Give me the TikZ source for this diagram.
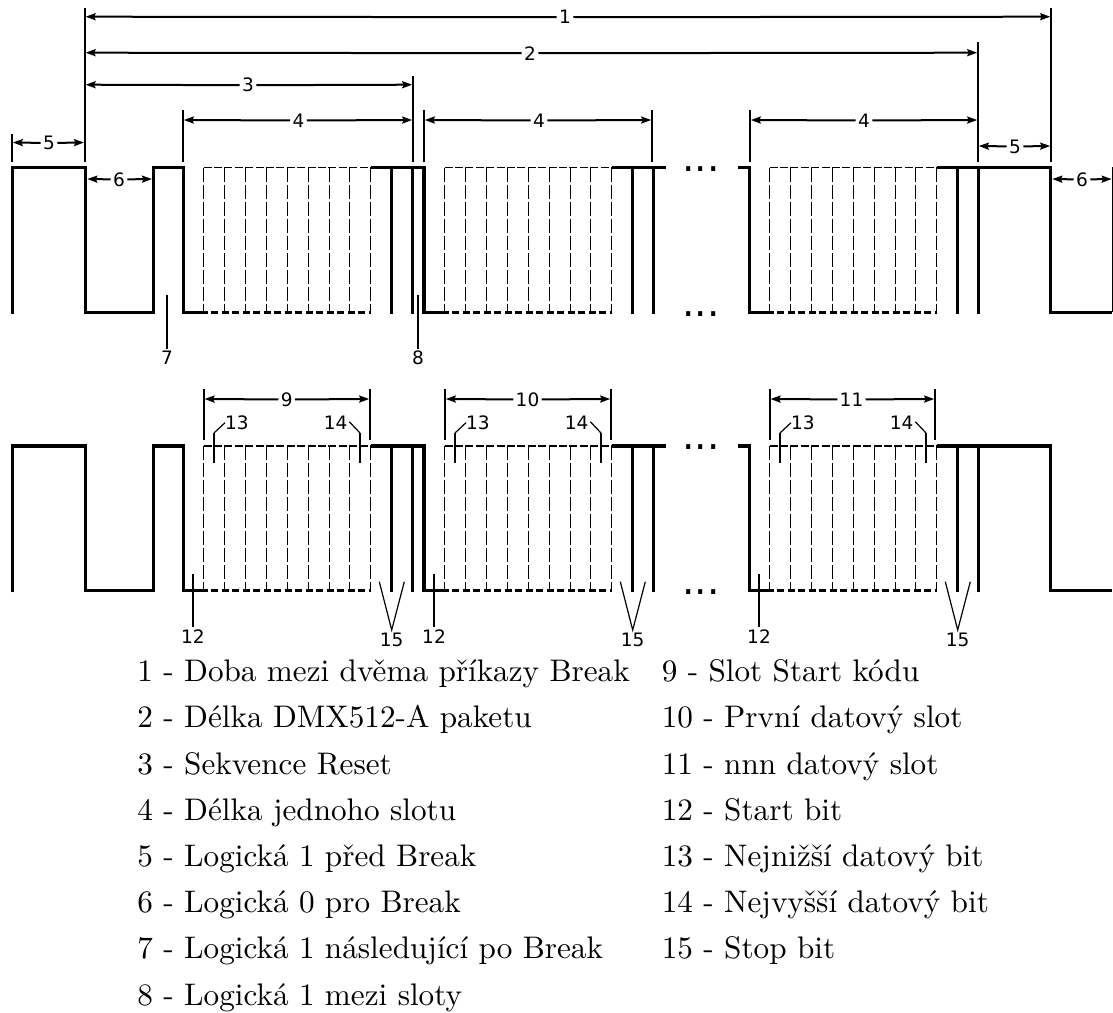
\documentclass[tikz,border=0pt]{standalone}
\usepackage{fontspec}
\usetikzlibrary{arrows.meta,calc}
\newfontfamily\labfont{DejaVu Sans}
\tikzset{
  wave/.style={line width=3.2pt,miter limit=10},
  stopline/.style={line width=3.2pt},
  guide/.style={line width=1.9pt},
  dimln/.style={line width=2pt},
  ltip/.style={{Stealth[length=10pt,width=7pt,inset=1.5pt]}-},
  rtip/.style={-{Stealth[length=10pt,width=7pt,inset=1.5pt]}},
  slotv/.style={line width=1.3pt,dash pattern=on 14.5pt off 2.5pt},
  slott/.style={line width=1.3pt,dash pattern=on 8pt off 2.4pt},
  slotb/.style={line width=2.8pt,dash pattern=on 7pt off 3.5pt,dash phase=3pt},
  num/.style={font=\labfont\fontsize{18.5}{21}\selectfont,inner sep=2.2pt},
  elid/.style={font=\labfont\fontsize{39}{44}\selectfont,inner sep=0pt,anchor=base},
  leader/.style={line width=2pt},
  leaderthin/.style={line width=1.2pt},
  legend/.style={scale=3.12,anchor=base west,inner sep=0pt},
}
\newcommand{\dimarrow}[6]{%
  \coordinate (#1-l) at (#2,#4);
  \coordinate (#1-r) at (#3,#4);
  \node[num] (#1) at (#6,#4+0.5) {#5};
  \draw[dimln,ltip] (#1-l) -- (#1);
  \draw[dimln,rtip] (#1) -- (#1-r);
}
\newcommand{\slots}[1]{%
  \begin{scope}[shift={(#1,0)}]
    \foreach \x in {203.5,224.5,245.5,266.5,287.5,308.5,329.5,349.5,370.5}
      \draw[slotv] (\x,167.5) -- (\x,312.3);
    \draw[slott] (203.5,167.5) -- (370.5,167.5);
    \draw[slotb] (203.5,312.3) -- (370.5,312.3);
    \draw[stopline] (391.5,167.5) -- (391.5,313.9);
    \draw[stopline] (412.5,167.5) -- (412.5,313.9);
  \end{scope}
}
\newcommand{\waveform}{%
  \draw[wave] (12.3,313.9) -- (12.3,167.5) -- (85.5,167.5) -- (85.5,312.3) -- (153.3,312.3)
     -- (153.3,167.5) -- (183.5,167.5) -- (183.5,312.3) -- (203.5,312.3);
  \slots{0}
  \draw[wave] (370.5,167.5) -- (424,167.5) -- (424,312.3) -- (444.5,312.3);
  \slots{241}
  \draw[wave] (611.5,167.5) -- (666,167.5);
  \draw[wave] (738,167.5) -- (749.3,167.5) -- (749.3,312.3) -- (769.5,312.3);
  \slots{566}
  \draw[wave] (936.5,167.5) -- (1050.7,167.5) -- (1050.7,312.3) -- (1112.3,312.3);
}
\begin{document}
\begin{tikzpicture}[x=1pt,y=-1pt]
\useasboundingbox (0,0) rectangle (1113,1012);
% top row
\waveform
\node[elid] (dotsA) at (701,171) {...};
\node[elid] (dotsB) at (701,316) {...};
\draw[line width=1.4pt] (1112.3,167) -- (1112.3,312.3);
% guides
\draw[guide] (12,134) -- (12,161.5);
\draw[guide] (84.8,8) -- (84.8,161.5);
\draw[guide] (183,110) -- (183,161.5);
\draw[guide] (413,76) -- (413,161.5);
\draw[guide] (424,110) -- (424,161.5);
\draw[guide] (652,110) -- (652,161.5);
\draw[guide] (750,110) -- (750,161.5);
\draw[guide] (978,42) -- (978,161.5);
\draw[guide] (1051,8) -- (1051,161.5);
% dimensions
\dimarrow{d1}{85.6}{1050.2}{16.7}{1}{565}
\dimarrow{d2}{85.6}{977.2}{52.7}{2}{530}
\dimarrow{d3}{85.6}{412.2}{84.7}{3}{248}
\dimarrow{d4a}{183.8}{412.2}{120}{4}{298.5}
\dimarrow{d4b}{424.8}{651.2}{120}{4}{539}
\dimarrow{d4c}{750.8}{977.2}{120}{4}{864}
\dimarrow{d5a}{12.8}{84}{142.5}{5}{49}
\dimarrow{d5b}{978.8}{1050.2}{146}{5}{1015}
\dimarrow{d6a}{87.3}{152}{179}{6}{119}
\dimarrow{d6b}{1052.3}{1111.6}{179}{6}{1082}
% leaders 7, 8
\coordinate (c7) at (167,295);
\node[num] (n7) at (167,358) {7};
\draw[leader] (c7) -- (n7);
\coordinate (c8) at (418,295);
\node[num] (n8) at (418,358) {8};
\draw[leader] (c8) -- (n8);
% bottom row
\begin{scope}[shift={(0,278.4)}]
  \waveform
\end{scope}
\node[elid] (dotsC) at (701,449.5) {...};
\node[elid] (dotsD) at (701,594) {...};
% slot dimensions
\draw[guide] (203.7,389) -- (203.7,440);
\draw[guide] (370,389) -- (370,440);
\draw[guide] (445,389) -- (445,440);
\draw[guide] (611,389) -- (611,440);
\draw[guide] (769.7,389) -- (769.7,440);
\draw[guide] (935,389) -- (935,440);
\dimarrow{d9}{204.5}{369.2}{399}{9}{286.7}
\dimarrow{d10}{445.8}{610.2}{399}{10}{527.5}
\dimarrow{d11}{770.5}{934.2}{399}{11}{851.5}
% per-slot leaders
\foreach \o/\k in {0/a,241/b,566/c}{
  \begin{scope}[shift={(\o,0)}]
    \node[num,anchor=west,inner sep=0pt] (n13\k) at (225,422.7) {13};
    \coordinate (c13\k) at (214,462.7);
    \coordinate (e13\k) at (214,433);
    \draw[leader] (c13\k) -- (e13\k);
    \draw[leaderthin] (e13\k) -- (n13\k.west);
    \node[num,anchor=east,inner sep=0pt] (n14\k) at (347.5,422.7) {14};
    \coordinate (c14\k) at (360,462.7);
    \coordinate (e14\k) at (360,433);
    \draw[leader] (c14\k) -- (e14\k);
    \draw[leaderthin] (e14\k) -- ($(n14\k.east)+(1.8,-1)$);
    \coordinate (c12\k) at (193,574);
    \node[num] (n12\k) at (193,636.7) {12};
    \draw[leader] (c12\k) -- (n12\k);
    \node[num] (n15\k) at (391.7,640) {15};
    \coordinate (a15\k) at (391.7,630);
    \coordinate (l15\k) at (379.3,581.7);
    \coordinate (r15\k) at (404.3,581.7);
    \draw[leaderthin] (l15\k) -- (a15\k) -- (r15\k);
  \end{scope}
}
% legend
\node[legend] (L1) at (136.8,681.7) {1 - Doba mezi dvěma příkazy Break};
\node[legend] (L2) at (136.8,727.9) {2 - Délka DMX512-A paketu};
\node[legend] (L3) at (136.8,774.1) {3 - Sekvence Reset};
\node[legend] (L4) at (136.8,820.3) {4 - Délka jednoho slotu};
\node[legend] (L5) at (136.8,866.5) {5 - Logická 1 před Break};
\node[legend] (L6) at (136.8,912.7) {6 - Logická 0 pro Break};
\node[legend] (L7) at (136.8,958.9) {7 - Logická 1 následující po Break};
\node[legend] (L8) at (136.8,1005.1) {8 - Logická 1 mezi sloty};
\node[legend] (L9) at (661.2,681.7) {9 - Slot Start kódu};
\node[legend] (L10) at (661.2,727.9) {10 - První datový slot};
\node[legend] (L11) at (661.2,774.1) {11 - nnn datový slot};
\node[legend] (L12) at (661.2,820.3) {12 - Start bit};
\node[legend] (L13) at (661.2,866.5) {13 - Nejnižší datový bit};
\node[legend] (L14) at (661.2,912.7) {14 - Nejvyšší datový bit};
\node[legend] (L15) at (661.2,958.9) {15 - Stop bit};
\end{tikzpicture}
\end{document}
